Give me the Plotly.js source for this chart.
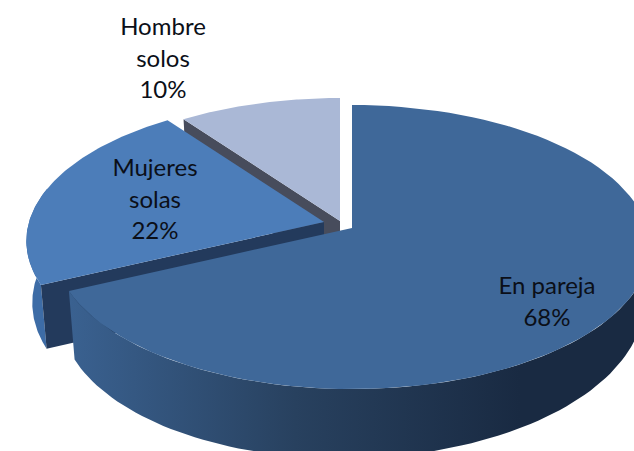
<!DOCTYPE html>
<html>
<head>
<meta charset="utf-8">
<script src="https://cdn.plot.ly/plotly-3.0.1.min.js"></script>
<style>html,body{margin:0;padding:0;background:#fff;overflow:hidden}#chart{width:634px;height:451px}</style>
</head>
<body>
<div id="chart"></div>
<script>
// Data
const categories = ["En pareja", "Mujeres solas", "Hombre solos"];
const percents = [68, 22, 10];

// Styles
const topColors = ["#3f6899", "#4c7db9", "#aab8d6"];
const radialWallColors = ["#233a5c", "#233a5c", "#474c5c"];
const outerWallColors = ["#3a6190", "#3d6ca6", "#8a97b3"];

// Perspective view of the pie disc
const RX = 295, RY = 139.5, K = 0.134, DEPTH = 60, TILT = 5.5, SHRINK = 0.98;
const centres = [[352, 228], [324, 222], [340, 221]];
const depthScale = [1, 0.93, 1];
const labelAnchors = [[547, 288], [155, 170], [163, 29]];
const LINE_GAP = 31.5;

function project(c, theta, lower, scale) {
  const u = Math.sin(theta), v = Math.cos(theta), w = 1 + K * v;
  let x = RX * u / w, y = -RY * v / w;
  if (lower) { x *= SHRINK; y += (DEPTH / w - TILT * u) * scale; }
  return [c[0] + x, c[1] + y];
}
function arc(c, a0, a1, lower, scale) {
  const n = 90, out = [];
  for (let i = 0; i <= n; i++) out.push(project(c, a0 + (a1 - a0) * i / n, lower, scale));
  return out;
}
function poly(points, color, extra) {
  return Object.assign({
    type: "scatter", mode: "lines", x: points.map(p => p[0]), y: points.map(p => p[1]),
    fill: "toself", fillcolor: color, line: {width: 0, color: color},
    hoverinfo: "skip", showlegend: false
  }, extra || {});
}

// Slice angles follow from the values
const total = percents.reduce((a, b) => a + b, 0);
const starts = [], ends = [];
percents.reduce((acc, p, i) => { starts[i] = acc / total * 2 * Math.PI; ends[i] = (acc + p) / total * 2 * Math.PI; return acc + p; }, 0);

const traces = [];
[2, 1, 0].forEach(i => {
  const c = centres[i], a0 = starts[i], a1 = ends[i], s = depthScale[i];
  // outer wall: only the part that faces the viewer
  const w0 = Math.max(a0, Math.PI / 2), w1 = Math.min(a1, 3 * Math.PI / 2 + 0.25);
  if (w1 > w0) {
    const pts = arc(c, w0, w1, false, s).concat(arc(c, w0, w1, true, s).reverse());
    const extra = i === 0 ? {
      fillgradient: {type: "horizontal", start: 70, stop: 520,
        colorscale: [[0, "#3a6190"], [0.5, "#28415f"], [1, "#192a42"]]}
    } : {};
    traces.push(poly(pts, outerWallColors[i], extra));
  }
  // radial wall on the slice's near cut edge
  const edge = project(c, a0, false, s), edgeLow = project(c, a0, true, s);
  traces.push(poly([c, edge, edgeLow, [c[0], c[1] + edgeLow[1] - edge[1]]], radialWallColors[i]));
  // top face
  traces.push(poly([c].concat(arc(c, a0, a1, false, s)), topColors[i]));
});

// Labels: one text item per line, for the reference's wide line spacing
const labelX = [], labelY = [], labelText = [];
categories.forEach((name, i) => {
  const lines = (i === 0 ? [name] : name.split(" ")).concat([percents[i] + "%"]);
  lines.forEach((t, j) => {
    labelX.push(labelAnchors[i][0]);
    labelY.push(labelAnchors[i][1] + j * LINE_GAP);
    labelText.push(t);
  });
});
traces.push({
  type: "scatter", mode: "text", x: labelX, y: labelY, text: labelText,
  textposition: "middle center",
  textfont: {family: "Lato, sans-serif", size: 24, color: "#0b0f18"},
  hoverinfo: "skip", showlegend: false
});

const layout = {
  width: 634, height: 451, margin: {l: 0, r: 0, t: 0, b: 0},
  paper_bgcolor: "#fff", plot_bgcolor: "#fff", showlegend: false,
  xaxis: {range: [0, 634], visible: false, fixedrange: true},
  yaxis: {range: [451, 0], visible: false, fixedrange: true}
};
Plotly.newPlot("chart", traces, layout, {displayModeBar: false, staticPlot: true});
</script>
</body>
</html>
